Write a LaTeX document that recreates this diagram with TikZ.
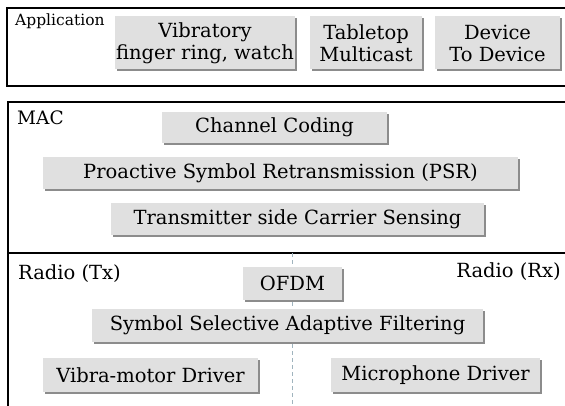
\documentclass[tikz,border=0pt]{standalone}
\usepackage{fontspec}
\setmainfont{DejaVu Serif}
\usetikzlibrary{shadows}

\definecolor{boxgray}{RGB}{224,224,224}
\definecolor{shadegray}{RGB}{140,140,140}
\definecolor{splitblue}{RGB}{160,180,190}

\tikzset{
  layerbox/.style={fill=boxgray, inner sep=0pt, align=center, font=\fontsize{19.5}{22}\selectfont,
    drop shadow={shadow xshift=1.5pt, shadow yshift=-2pt, fill=shadegray, opacity=1}},
  layerlabel/.style={inner sep=0pt, anchor=base west, font=\fontsize{19.5}{22}\selectfont},
  frame/.style={draw=black, line width=1.3pt}
}

\begin{document}
\begin{tikzpicture}[x=1pt,y=-1pt]
\useasboundingbox (0,0) rectangle (565,405);
\clip (0,0) rectangle (565,405);

		\draw [frame] (575,8) -- (7,8) -- (7,86) -- (575,86);
		\draw [frame] (575,102) -- (8,102) -- (8,415);
		\draw [frame] (8,253) -- (575,253);

\node [layerlabel, font=\fontsize{15.5}{18}\selectfont] (applbl) at (15,25) {Application};
\node [layerlabel, font=\fontsize{18.5}{22}\selectfont] (maclbl) at (17,124) {MAC};
\node [layerlabel] (txlbl) at (18,279) {Radio (Tx)};
\node [layerlabel, anchor=base east] (rxlbl) at (561,277) {Radio (Rx)};

\draw [splitblue, dashed, dash pattern=on 4pt off 3pt] (292,253) -- (292,405);

\node [layerbox, minimum width=180pt, minimum height=53pt] (ring) at (205,42.5) {\strut Vibratory\\finger ring, watch};
\node [layerbox, minimum width=112pt, minimum height=53pt] (table) at (366,42.5) {\strut Tabletop\\Multicast};
\node [layerbox, minimum width=125pt, minimum height=53pt] (d2d) at (497.5,42.5) {\strut Device\\To Device};

\node [layerbox, minimum width=225pt, minimum height=31pt] (coding) at (274.5,127.5) {Channel Coding};
\node [layerbox, minimum width=475pt, minimum height=32pt] (psr) at (280.5,173) {Proactive Symbol Retransmission (PSR)};
\node [layerbox, minimum width=373pt, minimum height=32pt] (sense) at (297.5,219) {Transmitter side Carrier Sensing};

\node [layerbox, minimum width=99pt, minimum height=33pt] (ofdm) at (292.5,283.5) {OFDM};
\node [layerbox, minimum width=391pt, minimum height=33pt] (filter) at (287.5,325.5) {Symbol Selective Adaptive Filtering};
\node [layerbox, minimum width=215pt, minimum height=34pt] (motor) at (150.5,375) {Vibra-motor Driver};
\node [layerbox, minimum width=209pt, minimum height=34pt] (mic) at (435.5,375) {Microphone Driver};
\end{tikzpicture}
\end{document}
